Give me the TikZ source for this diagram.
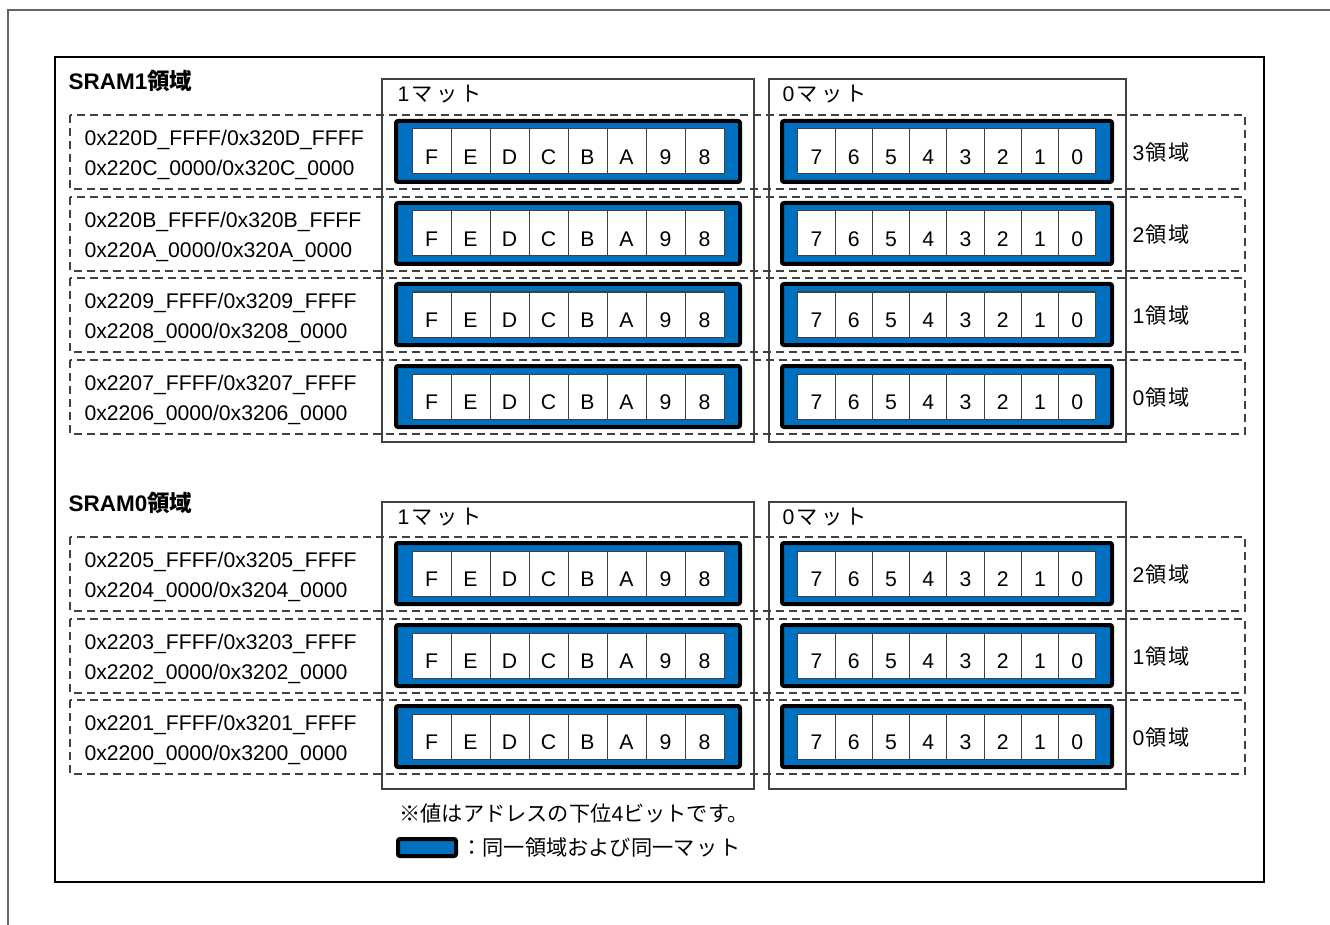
\documentclass[tikz,border=0pt]{standalone}
\usepackage{fontspec}
\setmainfont{Liberation Sans}
\newfontfamily\jpfont{Noto Sans CJK JP}
\definecolor{BankBlue}{RGB}{0,112,192}
\definecolor{LineGray}{RGB}{64,64,64}
\usetikzlibrary{positioning}

\begin{document}
\begin{tikzpicture}[x=1pt,y=-1pt,
  every node/.style={font=\fontsize{21.2}{24}\selectfont},
  rowbox/.style={draw=LineGray,line width=1.3pt,dash pattern=on 8pt off 5pt},
  matbox/.style={draw=LineGray,line width=1.3pt},
  bankbox/.style={draw=black,line width=4pt,fill=BankBlue,rounded corners=2pt},
  bitcell/.style={draw=LineGray,line width=1pt,fill=white,inner sep=0pt,
    minimum height=45pt,text height=26pt,text depth=0pt}]
  \useasboundingbox (0,0) rectangle (1330,925);
  \draw[LineGray!80,line width=1.5pt] (8,925) -- (8,10) -- (1330,10);
  \draw[line width=2.5pt] (55,57) rectangle (1264,882);
  % bank titles
  \node[anchor=west,font=\fontsize{22.5}{24}\selectfont\bfseries] (sram1) at (65,81) {SRAM1{\jpfont 領域}};
  \node[anchor=west,font=\fontsize{22.5}{24}\selectfont\bfseries] (sram0) at (65,503) {SRAM0{\jpfont 領域}};
  % mats
  \foreach \top/\bot/\s in {79/442/1,502/789/0} {
    \draw[matbox] (382,\top) rectangle (754,\bot);
    \draw[matbox] (769,\top) rectangle (1126,\bot);
    \node[anchor=west] (matA\s) at (394,\top+15) {1\hspace{2pt}{\jpfont マ\hspace{3.5pt}ッ\hspace{3.5pt}ト}};
    \node[anchor=west] (matB\s) at (779,\top+15) {0\hspace{2pt}{\jpfont マ\hspace{3.5pt}ッ\hspace{3.5pt}ト}};
  }
  % regions
  \foreach \top/\hi/\lo/\reg in {115/D/C/3,197/B/A/2,278/9/8/1,360/7/6/0,537/5/4/2,619/3/2/1,700/1/0/0} {
    \draw[rowbox] (70,\top) rectangle (1245,\top+74);
    \node[anchor=west] (hi\hi) at (81,\top+25) {0x220\hi\_FFFF/0x320\hi\_FFFF};
    \node[anchor=west] (lo\lo) at (81,\top+55) {0x220\lo\_0000/0x320\lo\_0000};
    \node[anchor=west] (reg\hi) at (1129,\top+37) {\reg\hspace{1pt}{\jpfont 領\hspace{1.5pt}域}};
    \draw[bankbox] (396,\top+6) rectangle (740,\top+67);
    \draw[bankbox] (782,\top+6) rectangle (1112,\top+67);
    \foreach \b [count=\i from 0] in {F,E,D,C,B,A,9,8}
      \node[bitcell,minimum width=39pt] (c\hi\b) at (431.5+39*\i,\top+36.5) {\b};
    \foreach \b [count=\i from 0] in {7,...,0}
      \node[bitcell,minimum width=37.25pt] (c\hi\b) at (816.6+37.25*\i,\top+36.5) {\b};
  }
  % notes
  \node[anchor=west] (note) at (396,813) {{\jpfont ※値はアドレスの下位}4{\jpfont ビットです。}};
  \node[bankbox,inner sep=0pt,minimum width=58pt,minimum height=17pt] (key) at (427,847.5) {};
  \node[right=0pt of key] (keytext) {\jpfont ：同一領域および同一マ\hspace{2pt}ッ\hspace{2pt}ト};
\end{tikzpicture}
\end{document}
